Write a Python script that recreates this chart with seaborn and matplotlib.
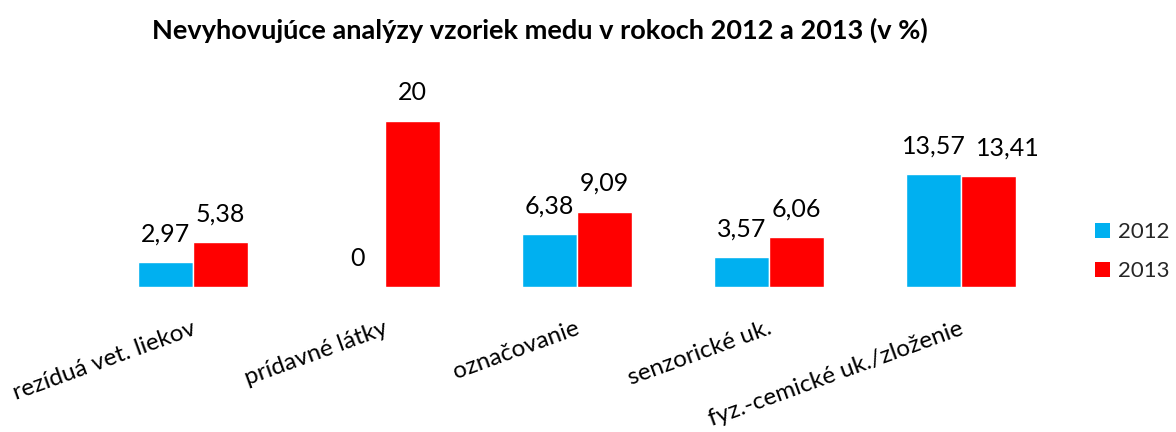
import matplotlib
matplotlib.use("Agg")
import matplotlib.pyplot as plt
import matplotlib.transforms as mtransforms
from matplotlib.patches import Patch
import seaborn as sns
import pandas as pd

categories = ["rezíduá vet. liekov", "prídavné látky", "označovanie",
              "senzorické uk.", "fyz.-cemické uk./zloženie"]
years = ["2012", "2013"]
values_2012 = [2.97, 0, 6.38, 3.57, 13.57]
values_2013 = [5.38, 20, 9.09, 6.06, 13.41]
colors = {"2012": "#00B0F0", "2013": "#FF0000"}
title = "Nevyhovujúce analýzy vzoriek medu v rokoch 2012 a 2013 (v %)"

df = pd.DataFrame({
    "kategoria": categories * 2,
    "hodnota": values_2012 + values_2013,
    "rok": [years[0]] * len(categories) + [years[1]] * len(categories),
})

sns.set_theme(style="white")
plt.rcParams["font.family"] = ["Lato", "DejaVu Sans"]

fig = plt.figure(figsize=(11.76, 4.32), dpi=100)
ax = fig.add_axes([0.0825, 0.3356, 0.8165, 0.48])

sns.barplot(data=df, x="kategoria", y="hodnota", hue="rok", palette=colors,
            width=0.573, saturation=1, ax=ax, legend=False)

def fmt(v):
    if float(v).is_integer():
        return str(int(v))
    return f"{v:.2f}".replace(".", ",")

label_sets = []
for cont in ax.containers:
    texts = ax.bar_label(cont, labels=[fmt(b.get_height()) for b in cont],
                         padding=12, fontsize=18, color="#000000")
    label_sets.append(texts)

# nudge the second label aside where both bars of a group are nearly equal
for i, (a, b) in enumerate(zip(values_2012, values_2013)):
    if abs(a - b) < 1.0:
        label_sets[1][i].xyann = (14, label_sets[1][i].xyann[1])

ax.set_ylim(0, 25)
ax.set_xlim(-0.5, len(categories) - 0.5)
ax.set_xlabel("")
ax.set_ylabel("")
ax.set_yticks([])
sns.despine(ax=ax, left=True, bottom=True)
ax.tick_params(axis="x", length=0, pad=20, labelsize=17.5, colors="#000000")
offset = mtransforms.ScaledTranslation(-2 / 100, -3 / 100, fig.dpi_scale_trans)
for lab in ax.get_xticklabels():
    lab.set_rotation(20)
    lab.set_ha("right")
    lab.set_va("top")
    lab.set_rotation_mode("anchor")
    lab.set_transform(lab.get_transform() + offset)

handles = [Patch(facecolor=colors[y], edgecolor="none") for y in years]
ax.legend(handles, years, frameon=False, loc="center left",
          bbox_to_anchor=(0.931, 0.417), bbox_transform=fig.transFigure,
          borderpad=0, borderaxespad=0,
          handlelength=0.68, handleheight=0.68, handletextpad=0.35,
          labelspacing=0.85, fontsize=16)

fig.text(0.459, 0.93, title, ha="center", va="center",
         fontsize=19.5, fontweight="bold", color="#000000")

fig.savefig("out.png", dpi=100, facecolor="white")
